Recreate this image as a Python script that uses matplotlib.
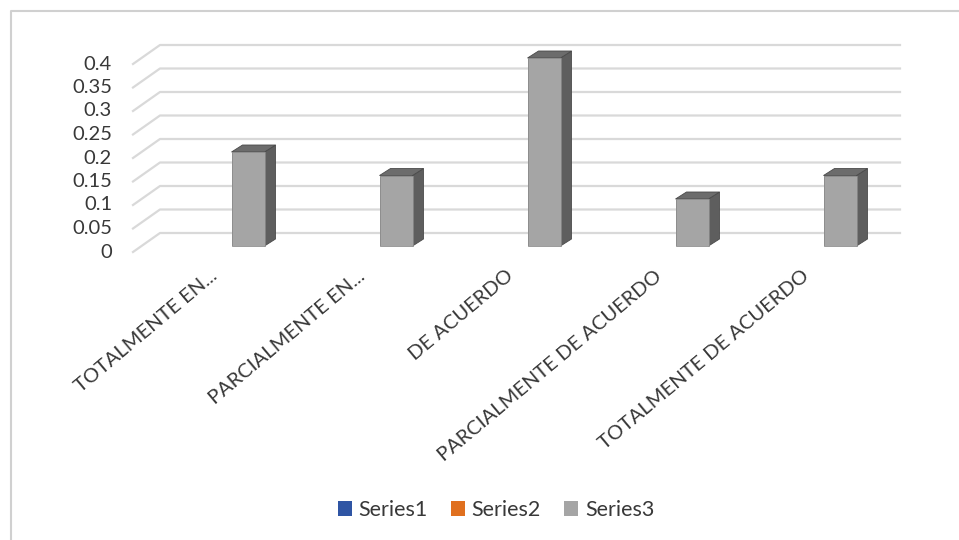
import matplotlib
matplotlib.use("Agg")
import matplotlib.pyplot as plt
from matplotlib.patches import Polygon
from matplotlib.lines import Line2D

plt.rcParams['font.family'] = ['Lato', 'DejaVu Sans']

# ---- data ----
categories = ["TOTALMENTE EN...", "PARCIALMENTE EN...", "DE ACUERDO",
              "PARCIALMENTE DE ACUERDO", "TOTALMENTE DE ACUERDO"]
series_names = ["Series1", "Series2", "Series3"]
series1 = [0, 0, 0, 0, 0]
series2 = [0, 0, 0, 0, 0]
series3 = [0.2, 0.15, 0.4, 0.1, 0.15]
y_ticks = [0, 0.05, 0.1, 0.15, 0.2, 0.25, 0.3, 0.35, 0.4]
y_tick_labels = ["0", "0.05", "0.1", "0.15", "0.2", "0.25", "0.3", "0.35", "0.4"]

# ---- style ----
W, H, DPI = 959, 540, 100
front_colors = ["#2F55A4", "#E0701F", "#A5A5A5"]
side_colors = ["#1F3A70", "#A04F16", "#5E5E5E"]
top_colors = ["#27467F", "#B85A1A", "#6C6C6C"]
grid_color = "#D9D9D9"
text_color = "#383838"

fig = plt.figure(figsize=(W / DPI, H / DPI), dpi=DPI)
fig.patch.set_facecolor("white")

# bar-plane axes (pixel geometry of the reference)
left_px, right_px, base_px, top_px = 141, 881, 246, 58
ax = fig.add_axes([left_px / W, (H - base_px) / H, (right_px - left_px) / W, (base_px - top_px) / H])
ax.set_xlim(-0.5, len(categories) - 0.5)
ax.set_ylim(0, 0.4)
for s in ax.spines.values():
    s.set_visible(False)
ax.set_facecolor("none")

px_x = (right_px - left_px) / len(categories)      # pixels per category
px_y = (base_px - top_px) / 0.4                    # pixels per value unit

def dxp(p):
    return p / px_x

def dyp(p):
    return p / px_y

# depth offsets of bars and wall
depth_dx, depth_dy = dxp(11), dyp(7)
wall_front_x, wall_front_dy = dxp(133 - left_px) - 0.5, -dyp(6)
wall_back_x, wall_back_dy = dxp(160 - left_px) - 0.5, dyp(13)
wall_right_x = dxp(900 - left_px) - 0.5

# gridlines (side diagonal + back wall) and value labels
for v, lab in zip(y_ticks, y_tick_labels):
    ax.add_line(Line2D([wall_front_x, wall_back_x, wall_right_x],
                       [v + wall_front_dy, v + wall_back_dy, v + wall_back_dy],
                       color=grid_color, lw=1.6, clip_on=False, zorder=1))
    ax.text(dxp(112 - left_px) - 0.5, v + wall_front_dy, lab,
            ha="right", va="center", fontsize=14.5, color=text_color, clip_on=False)

# bars
bw = 0.223
all_series = [series1, series2, series3]
for si, vals in enumerate(all_series):
    offs = (si - 1) * bw
    xs = [i + offs for i in range(len(categories))]
    ax.bar(xs, vals, width=bw, color=front_colors[si], edgecolor="none",
           label=series_names[si], zorder=4)
    for x, v in zip(xs, vals):
        if v <= 0:
            continue
        xl, xr = x - bw / 2, x + bw / 2
        side = Polygon([(xr, 0), (xr + depth_dx, depth_dy), (xr + depth_dx, v + depth_dy), (xr, v)],
                       closed=True, facecolor=side_colors[si], edgecolor="#4A4A4A", lw=0.6,
                       zorder=3, clip_on=False)
        top = Polygon([(xl, v), (xl + depth_dx, v + depth_dy), (xr + depth_dx, v + depth_dy), (xr, v)],
                      closed=True, facecolor=top_colors[si], edgecolor="#4A4A4A", lw=0.6,
                      zorder=3, clip_on=False)
        ax.add_patch(side)
        ax.add_patch(top)
        ax.add_patch(plt.Rectangle((xl, 0), bw, v, facecolor="none", edgecolor="#8A8A8A",
                                   lw=0.6, zorder=5, clip_on=False))

# category labels
ax.set_yticks([])
ax.set_xticks(range(len(categories)))
ax.set_xticklabels(categories, rotation=40, ha="right", va="center",
                   rotation_mode="anchor", fontsize=14.5, color=text_color)
ax.tick_params(axis="x", length=0, pad=20)

# legend
leg = fig.legend(loc="center", bbox_to_anchor=(496 / W, 1 - 510 / H), ncol=3, frameon=False,
                 fontsize=15.5, handlelength=0.65, handleheight=0.65, handletextpad=0.3,
                 columnspacing=1.1, labelcolor=text_color)

# chart border
fig.add_artist(Line2D([10.5 / W, 10.5 / W, 1.0], [0.0, 1 - 11 / H, 1 - 11 / H],
                      transform=fig.transFigure, color="#D0D0D0", lw=1.5))

fig.savefig("out.png", dpi=DPI, facecolor="white")
